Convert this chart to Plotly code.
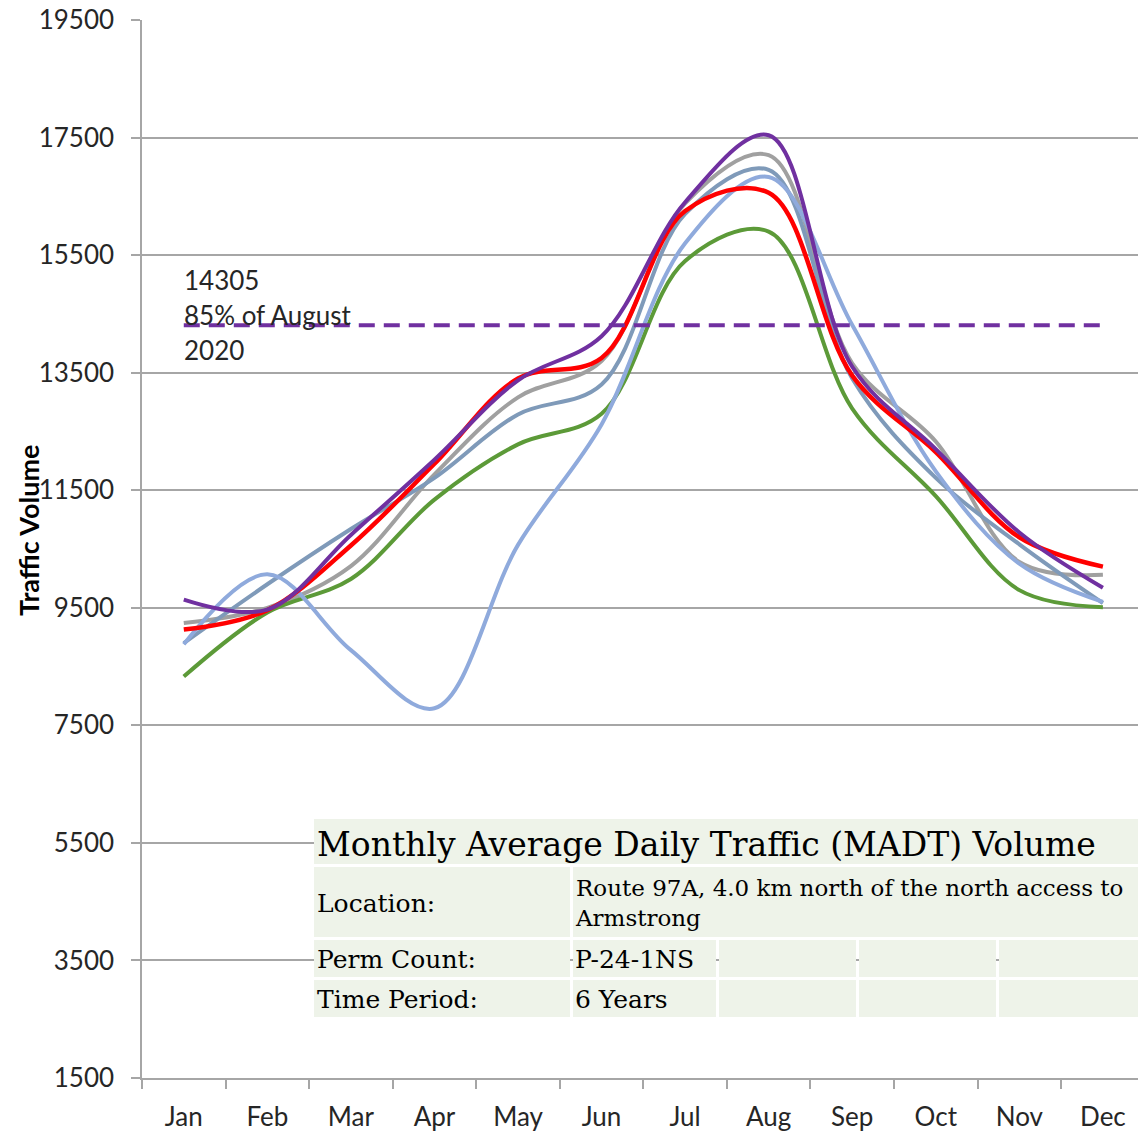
import plotly.graph_objects as go

months = ["Jan", "Feb", "Mar", "Apr", "May", "Jun", "Jul", "Aug", "Sep", "Oct", "Nov", "Dec"]

series_gray = [9240, 9500, 10210, 11770, 13080, 13700, 16380, 17200, 13660, 12330, 10280, 10060]
series_steel = [8900, 9900, 10840, 11710, 12790, 13300, 16200, 16950, 13400, 11710, 10580, 9580]
series_green = [8330, 9420, 9990, 11340, 12280, 12800, 15400, 15900, 12890, 11400, 9800, 9510]
series_lightblue = [8880, 10070, 8780, 7790, 10570, 12620, 15700, 16830, 14310, 11820, 10250, 9600]
series_red = [9130, 9460, 10560, 11950, 13400, 13750, 16250, 16560, 13450, 12150, 10700, 10200]
series_purple = [9640, 9470, 10740, 12020, 13370, 14120, 16400, 17540, 13600, 12200, 10780, 9840]

threshold_value = 14305
threshold_line = [threshold_value] * 12
threshold_labels = ["14305", "85% of August", "2020"]

y_ticks = [1500, 3500, 5500, 7500, 9500, 11500, 13500, 15500, 17500, 19500]

table_title = "Monthly Average Daily Traffic (MADT) Volume"
table_rows = [
    ("Location:", "Route 97A, 4.0 km north of the north access to<br>Armstrong"),
    ("Perm Count:", "P-24-1NS"),
    ("Time Period:", "6 Years"),
]

# body margin removed via post_script, so figure fills the window
W, H = 1138, 1134
PLOT_L, PLOT_R, PLOT_T, PLOT_B = 142, 1138, 20, 1078  # page pixel coords of plot area
L = PLOT_L
T = PLOT_T
R = W - PLOT_R
B = H - PLOT_B
PW = PLOT_R - PLOT_L
PH = PLOT_B - PLOT_T


def px(x):
    return (x - PLOT_L) / PW


def py(y):
    return (PLOT_B - y) / PH


fig = go.Figure()

styles = [
    (series_gray, "#A0A0A0", 4),
    (series_steel, "#7F9AB9", 4),
    (series_green, "#5C9A38", 4),
    (series_lightblue, "#8FAADC", 4),
    (series_red, "#FF0000", 4.5),
    (series_purple, "#7030A0", 4),
]
for vals, col, w in styles:
    fig.add_trace(go.Scatter(x=months, y=vals, mode="lines",
                             line=dict(color=col, width=w, shape="spline", smoothing=1.0),
                             showlegend=False, hoverinfo="skip"))

fig.add_trace(go.Scatter(x=months, y=threshold_line, mode="lines",
                         line=dict(color="#7030A0", width=4, dash="16px,9px"),
                         showlegend=False, hoverinfo="skip"))

sans = "Lato, Open Sans, sans-serif"
label_font = dict(family=sans, size=26, color="#262626")
for i, t in enumerate(threshold_labels):
    fig.add_annotation(x=px(182), y=py(280 + 35 * i), xref="paper", yref="paper",
                       text=t, showarrow=False, xanchor="left", yanchor="middle",
                       font=label_font)

fig.add_annotation(x=px(28), y=py(531), xref="paper", yref="paper",
                   text="<b>Traffic Volume</b>", textangle=-90, showarrow=False,
                   xanchor="center", yanchor="middle",
                   font=dict(family=sans, size=27, color="#000000"))

# table overlay
cell_bg = "#EEF3E9"
cells = [
    (314, 1145, 819, 864),
    (314, 570, 867, 937), (573, 1145, 867, 937),
    (314, 570, 940, 977), (573, 716, 940, 977), (719, 856, 940, 977), (859, 996, 940, 977), (999, 1145, 940, 977),
    (314, 570, 980, 1017), (573, 716, 980, 1017), (719, 856, 980, 1017), (859, 996, 980, 1017), (999, 1145, 980, 1017),
]
for x0, x1, y0, y1 in cells:
    fig.add_shape(type="rect", xref="paper", yref="paper",
                  x0=px(x0), x1=px(x1), y0=py(y1), y1=py(y0),
                  fillcolor=cell_bg, line=dict(width=0), layer="above")

serif = "DejaVu Serif, Liberation Serif, serif"
fig.add_annotation(x=px(315), y=py(844), xref="paper", yref="paper", text=table_title,
                   showarrow=False, xanchor="left", yanchor="middle",
                   font=dict(family=serif, size=33, color="#000000"))
row_centers = [903, 959, 999]
value_sizes = [23, 25, 25]
for (lab, val), yc, vs in zip(table_rows, row_centers, value_sizes):
    fig.add_annotation(x=px(315), y=py(yc), xref="paper", yref="paper", text=lab,
                       showarrow=False, xanchor="left", yanchor="middle",
                       font=dict(family=serif, size=25, color="#000000"))
    fig.add_annotation(x=px(573), y=py(yc), xref="paper", yref="paper", text=val,
                       showarrow=False, xanchor="left", yanchor="middle", align="left",
                       font=dict(family=serif, size=vs, color="#000000"))

axis_gray = "#A6A6A6"
fig.update_xaxes(type="category", categoryorder="array", categoryarray=months,
                 range=[-0.5, 11.42], tickson="boundaries", ticks="outside", ticklen=9,
                 tickcolor=axis_gray, tickwidth=1.5, showgrid=False,
                 showline=True, linecolor=axis_gray, linewidth=1.5,
                 ticklabelstandoff=15, ticklabeloverflow="allow", automargin=False,
                 tickfont=dict(family=sans, size=26, color="#262626"))
fig.update_yaxes(range=[1500, 19500], tickvals=y_ticks, ticktext=[str(v) for v in y_ticks],
                 ticks="outside", ticklen=9, tickcolor=axis_gray, tickwidth=1.5,
                 showgrid=True, gridcolor=axis_gray, gridwidth=1.5, zeroline=False,
                 showline=True, linecolor=axis_gray, linewidth=1.5,
                 ticklabelstandoff=12, ticklabeloverflow="allow", automargin=False,
                 tickfont=dict(family=sans, size=26, color="#262626"))

fig.update_layout(width=W, height=H, autosize=False,
                  margin=dict(l=L, r=R, t=T, b=B),
                  paper_bgcolor="white", plot_bgcolor="white")

fig.write_html("out.html", config={"displayModeBar": False},
               post_script="document.body.style.margin='0';document.body.style.overflow='hidden';")
